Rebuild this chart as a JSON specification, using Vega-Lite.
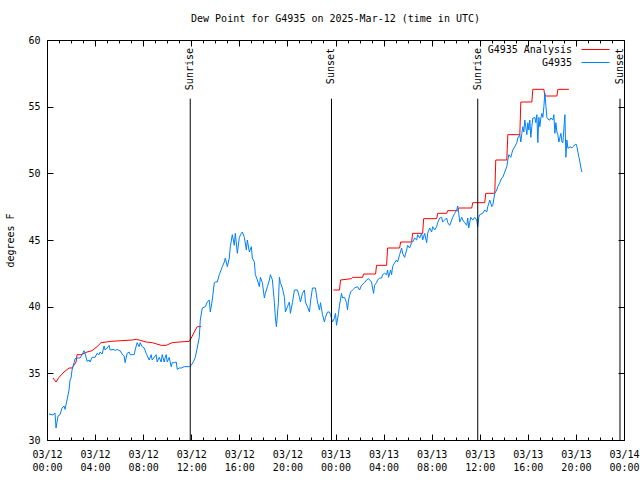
{
"$schema":"https://vega.github.io/schema/vega-lite/v6.json",
"width":577,"height":400,
"autosize":{"type":"none"},
"padding":{"left":47,"top":40,"right":16,"bottom":40},
"background":"white",
"config":{"view":{"stroke":"black","strokeWidth":1},"font":"DejaVu Sans Mono",
"axis":{"grid":false,"domain":false,"labelFont":"DejaVu Sans Mono","labelFontSize":10,"labelColor":"black","tickColor":"black","tickWidth":1,"titleFont":"DejaVu Sans Mono","titleFontSize":10,"titleFontWeight":"normal","titleColor":"black"}},
"title":{"text":"Dew Point for G4935 on 2025-Mar-12 (time in UTC)","font":"DejaVu Sans Mono","fontSize":10,"fontWeight":"normal","color":"black","frame":"group","anchor":"middle","offset":11},
"datasets":{
"sun":[{"t":"2025-03-12T11:55:00Z","label":"Sunrise"},{"t":"2025-03-12T23:40:00Z","label":"Sunset"},{"t":"2025-03-13T11:50:00Z","label":"Sunrise"},{"t":"2025-03-13T23:40:00Z","label":"Sunset"}],
"obs":[
{"t":"2025-03-12T00:30Z","v":34.65,"s":"G4935 Analysis","d":1},
{"t":"2025-03-12T00:45Z","v":34.35,"s":"G4935 Analysis","d":1},
{"t":"2025-03-12T01:00Z","v":34.7,"s":"G4935 Analysis","d":1},
{"t":"2025-03-12T01:25Z","v":35.1,"s":"G4935 Analysis","d":1},
{"t":"2025-03-12T01:50Z","v":35.4,"s":"G4935 Analysis","d":1},
{"t":"2025-03-12T02:05Z","v":35.4,"s":"G4935 Analysis","d":1},
{"t":"2025-03-12T02:25Z","v":35.85,"s":"G4935 Analysis","d":1},
{"t":"2025-03-12T02:30Z","v":36.4,"s":"G4935 Analysis","d":1},
{"t":"2025-03-12T02:50Z","v":36.4,"s":"G4935 Analysis","d":1},
{"t":"2025-03-12T03:05Z","v":36.5,"s":"G4935 Analysis","d":1},
{"t":"2025-03-12T03:20Z","v":36.6,"s":"G4935 Analysis","d":1},
{"t":"2025-03-12T03:45Z","v":36.7,"s":"G4935 Analysis","d":1},
{"t":"2025-03-12T04:10Z","v":37.0,"s":"G4935 Analysis","d":1},
{"t":"2025-03-12T04:30Z","v":37.3,"s":"G4935 Analysis","d":1},
{"t":"2025-03-12T04:55Z","v":37.35,"s":"G4935 Analysis","d":1},
{"t":"2025-03-12T05:20Z","v":37.4,"s":"G4935 Analysis","d":1},
{"t":"2025-03-12T07:05Z","v":37.5,"s":"G4935 Analysis","d":1},
{"t":"2025-03-12T07:25Z","v":37.55,"s":"G4935 Analysis","d":1},
{"t":"2025-03-12T07:40Z","v":37.5,"s":"G4935 Analysis","d":1},
{"t":"2025-03-12T08:15Z","v":37.35,"s":"G4935 Analysis","d":1},
{"t":"2025-03-12T08:45Z","v":37.3,"s":"G4935 Analysis","d":1},
{"t":"2025-03-12T09:30Z","v":37.1,"s":"G4935 Analysis","d":1},
{"t":"2025-03-12T09:55Z","v":37.1,"s":"G4935 Analysis","d":1},
{"t":"2025-03-12T10:25Z","v":37.3,"s":"G4935 Analysis","d":1},
{"t":"2025-03-12T11:00Z","v":37.35,"s":"G4935 Analysis","d":1},
{"t":"2025-03-12T11:50Z","v":37.4,"s":"G4935 Analysis","d":1},
{"t":"2025-03-12T12:00Z","v":37.65,"s":"G4935 Analysis","d":1},
{"t":"2025-03-12T12:15Z","v":38.1,"s":"G4935 Analysis","d":1},
{"t":"2025-03-12T12:30Z","v":38.5,"s":"G4935 Analysis","d":1},
{"t":"2025-03-12T12:50Z","v":38.5,"s":"G4935 Analysis","d":1},
{"t":"2025-03-12T23:50Z","v":41.25,"s":"G4935 Analysis","d":2},
{"t":"2025-03-13T00:20Z","v":41.25,"s":"G4935 Analysis","d":2},
{"t":"2025-03-13T00:25Z","v":42.0,"s":"G4935 Analysis","d":2},
{"t":"2025-03-13T01:20Z","v":42.1,"s":"G4935 Analysis","d":2},
{"t":"2025-03-13T01:25Z","v":42.2,"s":"G4935 Analysis","d":2},
{"t":"2025-03-13T02:15Z","v":42.2,"s":"G4935 Analysis","d":2},
{"t":"2025-03-13T02:20Z","v":42.45,"s":"G4935 Analysis","d":2},
{"t":"2025-03-13T03:20Z","v":42.45,"s":"G4935 Analysis","d":2},
{"t":"2025-03-13T03:25Z","v":43.1,"s":"G4935 Analysis","d":2},
{"t":"2025-03-13T04:15Z","v":43.1,"s":"G4935 Analysis","d":2},
{"t":"2025-03-13T04:20Z","v":44.4,"s":"G4935 Analysis","d":2},
{"t":"2025-03-13T05:20Z","v":44.4,"s":"G4935 Analysis","d":2},
{"t":"2025-03-13T05:25Z","v":44.85,"s":"G4935 Analysis","d":2},
{"t":"2025-03-13T06:20Z","v":44.85,"s":"G4935 Analysis","d":2},
{"t":"2025-03-13T06:25Z","v":45.5,"s":"G4935 Analysis","d":2},
{"t":"2025-03-13T07:15Z","v":45.5,"s":"G4935 Analysis","d":2},
{"t":"2025-03-13T07:20Z","v":46.6,"s":"G4935 Analysis","d":2},
{"t":"2025-03-13T08:25Z","v":46.6,"s":"G4935 Analysis","d":2},
{"t":"2025-03-13T08:30Z","v":47.0,"s":"G4935 Analysis","d":2},
{"t":"2025-03-13T09:15Z","v":47.0,"s":"G4935 Analysis","d":2},
{"t":"2025-03-13T09:20Z","v":47.2,"s":"G4935 Analysis","d":2},
{"t":"2025-03-13T10:10Z","v":47.2,"s":"G4935 Analysis","d":2},
{"t":"2025-03-13T10:15Z","v":47.4,"s":"G4935 Analysis","d":2},
{"t":"2025-03-13T11:20Z","v":47.4,"s":"G4935 Analysis","d":2},
{"t":"2025-03-13T11:25Z","v":47.8,"s":"G4935 Analysis","d":2},
{"t":"2025-03-13T12:25Z","v":47.8,"s":"G4935 Analysis","d":2},
{"t":"2025-03-13T12:30Z","v":48.5,"s":"G4935 Analysis","d":2},
{"t":"2025-03-13T13:15Z","v":48.5,"s":"G4935 Analysis","d":2},
{"t":"2025-03-13T13:20Z","v":51.0,"s":"G4935 Analysis","d":2},
{"t":"2025-03-13T14:15Z","v":51.0,"s":"G4935 Analysis","d":2},
{"t":"2025-03-13T14:20Z","v":52.9,"s":"G4935 Analysis","d":2},
{"t":"2025-03-13T15:20Z","v":52.9,"s":"G4935 Analysis","d":2},
{"t":"2025-03-13T15:25Z","v":55.35,"s":"G4935 Analysis","d":2},
{"t":"2025-03-13T16:20Z","v":55.35,"s":"G4935 Analysis","d":2},
{"t":"2025-03-13T16:25Z","v":56.3,"s":"G4935 Analysis","d":2},
{"t":"2025-03-13T17:20Z","v":56.3,"s":"G4935 Analysis","d":2},
{"t":"2025-03-13T17:25Z","v":55.8,"s":"G4935 Analysis","d":2},
{"t":"2025-03-13T18:25Z","v":55.8,"s":"G4935 Analysis","d":2},
{"t":"2025-03-13T18:30Z","v":56.3,"s":"G4935 Analysis","d":2},
{"t":"2025-03-13T19:25Z","v":56.3,"s":"G4935 Analysis","d":2},
{"t":"2025-03-12T00:10Z","v":31.95,"s":"G4935","d":0},
{"t":"2025-03-12T00:30Z","v":31.88,"s":"G4935","d":0},
{"t":"2025-03-12T00:40Z","v":32.03,"s":"G4935","d":0},
{"t":"2025-03-12T00:45Z","v":30.9,"s":"G4935","d":0},
{"t":"2025-03-12T00:55Z","v":31.8,"s":"G4935","d":0},
{"t":"2025-03-12T01:05Z","v":31.9,"s":"G4935","d":0},
{"t":"2025-03-12T01:15Z","v":32.4,"s":"G4935","d":0},
{"t":"2025-03-12T01:25Z","v":32.55,"s":"G4935","d":0},
{"t":"2025-03-12T01:30Z","v":32.3,"s":"G4935","d":0},
{"t":"2025-03-12T01:40Z","v":33.0,"s":"G4935","d":0},
{"t":"2025-03-12T01:50Z","v":33.75,"s":"G4935","d":0},
{"t":"2025-03-12T01:55Z","v":34.5,"s":"G4935","d":0},
{"t":"2025-03-12T02:00Z","v":34.65,"s":"G4935","d":0},
{"t":"2025-03-12T02:05Z","v":35.25,"s":"G4935","d":0},
{"t":"2025-03-12T02:15Z","v":35.8,"s":"G4935","d":0},
{"t":"2025-03-12T02:20Z","v":36.1,"s":"G4935","d":0},
{"t":"2025-03-12T02:30Z","v":36.15,"s":"G4935","d":0},
{"t":"2025-03-12T02:45Z","v":36.15,"s":"G4935","d":0},
{"t":"2025-03-12T02:55Z","v":36.4,"s":"G4935","d":0},
{"t":"2025-03-12T03:05Z","v":36.7,"s":"G4935","d":0},
{"t":"2025-03-12T03:10Z","v":36.5,"s":"G4935","d":0},
{"t":"2025-03-12T03:20Z","v":35.9,"s":"G4935","d":0},
{"t":"2025-03-12T03:30Z","v":36.0,"s":"G4935","d":0},
{"t":"2025-03-12T03:35Z","v":35.85,"s":"G4935","d":0},
{"t":"2025-03-12T03:45Z","v":36.2,"s":"G4935","d":0},
{"t":"2025-03-12T04:00Z","v":36.2,"s":"G4935","d":0},
{"t":"2025-03-12T04:10Z","v":36.5,"s":"G4935","d":0},
{"t":"2025-03-12T04:20Z","v":36.4,"s":"G4935","d":0},
{"t":"2025-03-12T04:25Z","v":36.6,"s":"G4935","d":0},
{"t":"2025-03-12T04:35Z","v":36.45,"s":"G4935","d":0},
{"t":"2025-03-12T04:45Z","v":37.05,"s":"G4935","d":0},
{"t":"2025-03-12T04:50Z","v":36.75,"s":"G4935","d":0},
{"t":"2025-03-12T05:00Z","v":36.9,"s":"G4935","d":0},
{"t":"2025-03-12T05:10Z","v":37.1,"s":"G4935","d":0},
{"t":"2025-03-12T05:15Z","v":36.75,"s":"G4935","d":0},
{"t":"2025-03-12T05:35Z","v":36.8,"s":"G4935","d":0},
{"t":"2025-03-12T05:40Z","v":36.7,"s":"G4935","d":0},
{"t":"2025-03-12T05:50Z","v":36.8,"s":"G4935","d":0},
{"t":"2025-03-12T06:00Z","v":36.7,"s":"G4935","d":0},
{"t":"2025-03-12T06:05Z","v":36.7,"s":"G4935","d":0},
{"t":"2025-03-12T06:15Z","v":36.45,"s":"G4935","d":0},
{"t":"2025-03-12T06:25Z","v":36.3,"s":"G4935","d":0},
{"t":"2025-03-12T06:30Z","v":35.8,"s":"G4935","d":0},
{"t":"2025-03-12T06:40Z","v":36.5,"s":"G4935","d":0},
{"t":"2025-03-12T06:50Z","v":36.6,"s":"G4935","d":0},
{"t":"2025-03-12T06:55Z","v":36.4,"s":"G4935","d":0},
{"t":"2025-03-12T07:15Z","v":36.4,"s":"G4935","d":0},
{"t":"2025-03-12T07:20Z","v":36.75,"s":"G4935","d":0},
{"t":"2025-03-12T07:30Z","v":37.3,"s":"G4935","d":0},
{"t":"2025-03-12T07:40Z","v":37.0,"s":"G4935","d":0},
{"t":"2025-03-12T07:45Z","v":37.3,"s":"G4935","d":0},
{"t":"2025-03-12T07:55Z","v":37.0,"s":"G4935","d":0},
{"t":"2025-03-12T08:05Z","v":36.9,"s":"G4935","d":0},
{"t":"2025-03-12T08:15Z","v":36.5,"s":"G4935","d":0},
{"t":"2025-03-12T08:30Z","v":36.0,"s":"G4935","d":0},
{"t":"2025-03-12T08:40Z","v":36.4,"s":"G4935","d":0},
{"t":"2025-03-12T08:45Z","v":36.0,"s":"G4935","d":0},
{"t":"2025-03-12T09:05Z","v":36.4,"s":"G4935","d":0},
{"t":"2025-03-12T09:10Z","v":35.85,"s":"G4935","d":0},
{"t":"2025-03-12T09:20Z","v":36.2,"s":"G4935","d":0},
{"t":"2025-03-12T09:30Z","v":35.85,"s":"G4935","d":0},
{"t":"2025-03-12T09:35Z","v":36.4,"s":"G4935","d":0},
{"t":"2025-03-12T09:45Z","v":35.85,"s":"G4935","d":0},
{"t":"2025-03-12T09:50Z","v":36.2,"s":"G4935","d":0},
{"t":"2025-03-12T09:55Z","v":36.4,"s":"G4935","d":0},
{"t":"2025-03-12T10:00Z","v":35.85,"s":"G4935","d":0},
{"t":"2025-03-12T10:10Z","v":36.2,"s":"G4935","d":0},
{"t":"2025-03-12T10:20Z","v":35.5,"s":"G4935","d":0},
{"t":"2025-03-12T10:25Z","v":35.8,"s":"G4935","d":0},
{"t":"2025-03-12T10:35Z","v":35.8,"s":"G4935","d":0},
{"t":"2025-03-12T10:45Z","v":35.85,"s":"G4935","d":0},
{"t":"2025-03-12T10:50Z","v":35.3,"s":"G4935","d":0},
{"t":"2025-03-12T11:00Z","v":35.4,"s":"G4935","d":0},
{"t":"2025-03-12T11:10Z","v":35.4,"s":"G4935","d":0},
{"t":"2025-03-12T11:25Z","v":35.5,"s":"G4935","d":0},
{"t":"2025-03-12T11:50Z","v":35.5,"s":"G4935","d":0},
{"t":"2025-03-12T12:00Z","v":35.6,"s":"G4935","d":0},
{"t":"2025-03-12T12:15Z","v":36.0,"s":"G4935","d":0},
{"t":"2025-03-12T12:20Z","v":36.2,"s":"G4935","d":0},
{"t":"2025-03-12T12:30Z","v":36.9,"s":"G4935","d":0},
{"t":"2025-03-12T12:40Z","v":37.7,"s":"G4935","d":0},
{"t":"2025-03-12T12:45Z","v":39.0,"s":"G4935","d":0},
{"t":"2025-03-12T12:55Z","v":39.9,"s":"G4935","d":0},
{"t":"2025-03-12T13:10Z","v":40.0,"s":"G4935","d":0},
{"t":"2025-03-12T13:20Z","v":40.35,"s":"G4935","d":0},
{"t":"2025-03-12T13:30Z","v":40.5,"s":"G4935","d":0},
{"t":"2025-03-12T13:35Z","v":39.6,"s":"G4935","d":0},
{"t":"2025-03-12T13:45Z","v":40.5,"s":"G4935","d":0},
{"t":"2025-03-12T13:55Z","v":41.8,"s":"G4935","d":0},
{"t":"2025-03-12T14:00Z","v":41.85,"s":"G4935","d":0},
{"t":"2025-03-12T14:10Z","v":41.85,"s":"G4935","d":0},
{"t":"2025-03-12T14:20Z","v":42.4,"s":"G4935","d":0},
{"t":"2025-03-12T14:25Z","v":42.6,"s":"G4935","d":0},
{"t":"2025-03-12T14:35Z","v":43.0,"s":"G4935","d":0},
{"t":"2025-03-12T14:45Z","v":43.35,"s":"G4935","d":0},
{"t":"2025-03-12T14:50Z","v":43.65,"s":"G4935","d":0},
{"t":"2025-03-12T15:00Z","v":43.0,"s":"G4935","d":0},
{"t":"2025-03-12T15:10Z","v":43.65,"s":"G4935","d":0},
{"t":"2025-03-12T15:15Z","v":44.5,"s":"G4935","d":0},
{"t":"2025-03-12T15:25Z","v":45.4,"s":"G4935","d":0},
{"t":"2025-03-12T15:35Z","v":44.6,"s":"G4935","d":0},
{"t":"2025-03-12T15:40Z","v":45.5,"s":"G4935","d":0},
{"t":"2025-03-12T15:50Z","v":44.0,"s":"G4935","d":0},
{"t":"2025-03-12T16:00Z","v":45.2,"s":"G4935","d":0},
{"t":"2025-03-12T16:10Z","v":45.5,"s":"G4935","d":0},
{"t":"2025-03-12T16:15Z","v":45.6,"s":"G4935","d":0},
{"t":"2025-03-12T16:25Z","v":45.2,"s":"G4935","d":0},
{"t":"2025-03-12T16:35Z","v":44.25,"s":"G4935","d":0},
{"t":"2025-03-12T16:40Z","v":45.0,"s":"G4935","d":0},
{"t":"2025-03-12T16:50Z","v":44.1,"s":"G4935","d":0},
{"t":"2025-03-12T17:00Z","v":44.5,"s":"G4935","d":0},
{"t":"2025-03-12T17:05Z","v":43.65,"s":"G4935","d":0},
{"t":"2025-03-12T17:15Z","v":43.35,"s":"G4935","d":0},
{"t":"2025-03-12T17:20Z","v":42.4,"s":"G4935","d":0},
{"t":"2025-03-12T17:30Z","v":42.0,"s":"G4935","d":0},
{"t":"2025-03-12T17:40Z","v":41.5,"s":"G4935","d":0},
{"t":"2025-03-12T17:45Z","v":42.2,"s":"G4935","d":0},
{"t":"2025-03-12T17:55Z","v":41.8,"s":"G4935","d":0},
{"t":"2025-03-12T18:05Z","v":40.65,"s":"G4935","d":0},
{"t":"2025-03-12T18:10Z","v":41.0,"s":"G4935","d":0},
{"t":"2025-03-12T18:20Z","v":41.5,"s":"G4935","d":0},
{"t":"2025-03-12T18:30Z","v":42.0,"s":"G4935","d":0},
{"t":"2025-03-12T18:35Z","v":42.4,"s":"G4935","d":0},
{"t":"2025-03-12T18:45Z","v":42.0,"s":"G4935","d":0},
{"t":"2025-03-12T18:55Z","v":40.3,"s":"G4935","d":0},
{"t":"2025-03-12T19:00Z","v":39.15,"s":"G4935","d":0},
{"t":"2025-03-12T19:05Z","v":38.5,"s":"G4935","d":0},
{"t":"2025-03-12T19:15Z","v":40.3,"s":"G4935","d":0},
{"t":"2025-03-12T19:20Z","v":42.2,"s":"G4935","d":0},
{"t":"2025-03-12T19:25Z","v":41.8,"s":"G4935","d":0},
{"t":"2025-03-12T19:35Z","v":41.4,"s":"G4935","d":0},
{"t":"2025-03-12T19:45Z","v":40.7,"s":"G4935","d":0},
{"t":"2025-03-12T19:50Z","v":39.6,"s":"G4935","d":0},
{"t":"2025-03-12T20:00Z","v":40.0,"s":"G4935","d":0},
{"t":"2025-03-12T20:10Z","v":40.35,"s":"G4935","d":0},
{"t":"2025-03-12T20:15Z","v":39.5,"s":"G4935","d":0},
{"t":"2025-03-12T20:25Z","v":40.3,"s":"G4935","d":0},
{"t":"2025-03-12T20:35Z","v":41.25,"s":"G4935","d":0},
{"t":"2025-03-12T20:50Z","v":41.25,"s":"G4935","d":0},
{"t":"2025-03-12T21:00Z","v":40.7,"s":"G4935","d":0},
{"t":"2025-03-12T21:05Z","v":40.35,"s":"G4935","d":0},
{"t":"2025-03-12T21:15Z","v":41.0,"s":"G4935","d":0},
{"t":"2025-03-12T21:25Z","v":41.25,"s":"G4935","d":0},
{"t":"2025-03-12T21:30Z","v":40.35,"s":"G4935","d":0},
{"t":"2025-03-12T21:40Z","v":40.0,"s":"G4935","d":0},
{"t":"2025-03-12T21:50Z","v":39.6,"s":"G4935","d":0},
{"t":"2025-03-12T21:55Z","v":40.35,"s":"G4935","d":0},
{"t":"2025-03-12T22:05Z","v":41.4,"s":"G4935","d":0},
{"t":"2025-03-12T22:20Z","v":41.4,"s":"G4935","d":0},
{"t":"2025-03-12T22:30Z","v":40.35,"s":"G4935","d":0},
{"t":"2025-03-12T22:40Z","v":39.75,"s":"G4935","d":0},
{"t":"2025-03-12T22:45Z","v":40.3,"s":"G4935","d":0},
{"t":"2025-03-12T22:55Z","v":39.4,"s":"G4935","d":0},
{"t":"2025-03-12T23:05Z","v":38.85,"s":"G4935","d":0},
{"t":"2025-03-12T23:10Z","v":39.2,"s":"G4935","d":0},
{"t":"2025-03-12T23:20Z","v":39.6,"s":"G4935","d":0},
{"t":"2025-03-12T23:30Z","v":39.6,"s":"G4935","d":0},
{"t":"2025-03-12T23:35Z","v":39.4,"s":"G4935","d":0},
{"t":"2025-03-12T23:45Z","v":38.85,"s":"G4935","d":0},
{"t":"2025-03-12T23:55Z","v":39.15,"s":"G4935","d":0},
{"t":"2025-03-13T00:00Z","v":39.5,"s":"G4935","d":0},
{"t":"2025-03-13T00:05Z","v":38.6,"s":"G4935","d":0},
{"t":"2025-03-13T00:15Z","v":39.5,"s":"G4935","d":0},
{"t":"2025-03-13T00:20Z","v":40.1,"s":"G4935","d":0},
{"t":"2025-03-13T00:30Z","v":41.0,"s":"G4935","d":0},
{"t":"2025-03-13T00:35Z","v":40.65,"s":"G4935","d":0},
{"t":"2025-03-13T00:45Z","v":40.7,"s":"G4935","d":0},
{"t":"2025-03-13T00:55Z","v":40.3,"s":"G4935","d":0},
{"t":"2025-03-13T01:00Z","v":39.75,"s":"G4935","d":0},
{"t":"2025-03-13T01:05Z","v":40.5,"s":"G4935","d":0},
{"t":"2025-03-13T01:15Z","v":41.1,"s":"G4935","d":0},
{"t":"2025-03-13T01:25Z","v":41.25,"s":"G4935","d":0},
{"t":"2025-03-13T01:35Z","v":41.4,"s":"G4935","d":0},
{"t":"2025-03-13T01:50Z","v":41.5,"s":"G4935","d":0},
{"t":"2025-03-13T02:00Z","v":41.25,"s":"G4935","d":0},
{"t":"2025-03-13T02:10Z","v":41.6,"s":"G4935","d":0},
{"t":"2025-03-13T02:25Z","v":41.8,"s":"G4935","d":0},
{"t":"2025-03-13T02:35Z","v":42.0,"s":"G4935","d":0},
{"t":"2025-03-13T02:45Z","v":42.1,"s":"G4935","d":0},
{"t":"2025-03-13T03:00Z","v":41.85,"s":"G4935","d":0},
{"t":"2025-03-13T03:05Z","v":41.4,"s":"G4935","d":0},
{"t":"2025-03-13T03:10Z","v":41.0,"s":"G4935","d":0},
{"t":"2025-03-13T03:15Z","v":41.6,"s":"G4935","d":0},
{"t":"2025-03-13T03:25Z","v":41.8,"s":"G4935","d":0},
{"t":"2025-03-13T03:30Z","v":42.0,"s":"G4935","d":0},
{"t":"2025-03-13T03:40Z","v":42.15,"s":"G4935","d":0},
{"t":"2025-03-13T03:50Z","v":42.15,"s":"G4935","d":0},
{"t":"2025-03-13T03:55Z","v":42.4,"s":"G4935","d":0},
{"t":"2025-03-13T04:05Z","v":42.5,"s":"G4935","d":0},
{"t":"2025-03-13T04:15Z","v":42.4,"s":"G4935","d":0},
{"t":"2025-03-13T04:20Z","v":42.75,"s":"G4935","d":0},
{"t":"2025-03-13T04:25Z","v":42.2,"s":"G4935","d":0},
{"t":"2025-03-13T04:35Z","v":42.75,"s":"G4935","d":0},
{"t":"2025-03-13T04:40Z","v":42.4,"s":"G4935","d":0},
{"t":"2025-03-13T04:45Z","v":43.0,"s":"G4935","d":0},
{"t":"2025-03-13T04:55Z","v":43.3,"s":"G4935","d":0},
{"t":"2025-03-13T05:05Z","v":43.5,"s":"G4935","d":0},
{"t":"2025-03-13T05:10Z","v":43.35,"s":"G4935","d":0},
{"t":"2025-03-13T05:20Z","v":43.9,"s":"G4935","d":0},
{"t":"2025-03-13T05:30Z","v":44.4,"s":"G4935","d":0},
{"t":"2025-03-13T05:35Z","v":44.0,"s":"G4935","d":0},
{"t":"2025-03-13T05:45Z","v":43.7,"s":"G4935","d":0},
{"t":"2025-03-13T05:55Z","v":44.25,"s":"G4935","d":0},
{"t":"2025-03-13T06:00Z","v":44.6,"s":"G4935","d":0},
{"t":"2025-03-13T06:10Z","v":44.4,"s":"G4935","d":0},
{"t":"2025-03-13T06:20Z","v":44.8,"s":"G4935","d":0},
{"t":"2025-03-13T06:25Z","v":44.85,"s":"G4935","d":0},
{"t":"2025-03-13T06:35Z","v":45.15,"s":"G4935","d":0},
{"t":"2025-03-13T06:45Z","v":45.0,"s":"G4935","d":0},
{"t":"2025-03-13T06:50Z","v":45.4,"s":"G4935","d":0},
{"t":"2025-03-13T07:00Z","v":45.15,"s":"G4935","d":0},
{"t":"2025-03-13T07:10Z","v":45.5,"s":"G4935","d":0},
{"t":"2025-03-13T07:15Z","v":45.0,"s":"G4935","d":0},
{"t":"2025-03-13T07:25Z","v":45.5,"s":"G4935","d":0},
{"t":"2025-03-13T07:35Z","v":44.8,"s":"G4935","d":0},
{"t":"2025-03-13T07:40Z","v":45.5,"s":"G4935","d":0},
{"t":"2025-03-13T07:50Z","v":45.9,"s":"G4935","d":0},
{"t":"2025-03-13T08:00Z","v":45.6,"s":"G4935","d":0},
{"t":"2025-03-13T08:05Z","v":46.0,"s":"G4935","d":0},
{"t":"2025-03-13T08:15Z","v":45.75,"s":"G4935","d":0},
{"t":"2025-03-13T08:25Z","v":46.0,"s":"G4935","d":0},
{"t":"2025-03-13T08:30Z","v":46.3,"s":"G4935","d":0},
{"t":"2025-03-13T08:40Z","v":46.65,"s":"G4935","d":0},
{"t":"2025-03-13T08:50Z","v":46.7,"s":"G4935","d":0},
{"t":"2025-03-13T08:55Z","v":46.35,"s":"G4935","d":0},
{"t":"2025-03-13T09:05Z","v":46.5,"s":"G4935","d":0},
{"t":"2025-03-13T09:15Z","v":46.65,"s":"G4935","d":0},
{"t":"2025-03-13T09:20Z","v":46.3,"s":"G4935","d":0},
{"t":"2025-03-13T09:30Z","v":46.1,"s":"G4935","d":0},
{"t":"2025-03-13T09:40Z","v":46.5,"s":"G4935","d":0},
{"t":"2025-03-13T09:45Z","v":46.7,"s":"G4935","d":0},
{"t":"2025-03-13T09:55Z","v":47.0,"s":"G4935","d":0},
{"t":"2025-03-13T10:05Z","v":47.25,"s":"G4935","d":0},
{"t":"2025-03-13T10:10Z","v":47.55,"s":"G4935","d":0},
{"t":"2025-03-13T10:15Z","v":47.0,"s":"G4935","d":0},
{"t":"2025-03-13T10:20Z","v":46.35,"s":"G4935","d":0},
{"t":"2025-03-13T10:30Z","v":46.7,"s":"G4935","d":0},
{"t":"2025-03-13T10:35Z","v":46.5,"s":"G4935","d":0},
{"t":"2025-03-13T10:45Z","v":46.3,"s":"G4935","d":0},
{"t":"2025-03-13T10:55Z","v":46.1,"s":"G4935","d":0},
{"t":"2025-03-13T11:00Z","v":46.65,"s":"G4935","d":0},
{"t":"2025-03-13T11:05Z","v":45.9,"s":"G4935","d":0},
{"t":"2025-03-13T11:15Z","v":46.7,"s":"G4935","d":0},
{"t":"2025-03-13T11:25Z","v":46.5,"s":"G4935","d":0},
{"t":"2025-03-13T11:35Z","v":46.7,"s":"G4935","d":0},
{"t":"2025-03-13T11:45Z","v":46.5,"s":"G4935","d":0},
{"t":"2025-03-13T11:50Z","v":46.0,"s":"G4935","d":0},
{"t":"2025-03-13T11:55Z","v":46.7,"s":"G4935","d":0},
{"t":"2025-03-13T12:00Z","v":46.9,"s":"G4935","d":0},
{"t":"2025-03-13T12:15Z","v":47.0,"s":"G4935","d":0},
{"t":"2025-03-13T12:25Z","v":47.25,"s":"G4935","d":0},
{"t":"2025-03-13T12:35Z","v":47.1,"s":"G4935","d":0},
{"t":"2025-03-13T12:40Z","v":47.5,"s":"G4935","d":0},
{"t":"2025-03-13T12:50Z","v":48.0,"s":"G4935","d":0},
{"t":"2025-03-13T13:00Z","v":47.5,"s":"G4935","d":0},
{"t":"2025-03-13T13:05Z","v":47.6,"s":"G4935","d":0},
{"t":"2025-03-13T13:15Z","v":48.5,"s":"G4935","d":0},
{"t":"2025-03-13T13:25Z","v":48.75,"s":"G4935","d":0},
{"t":"2025-03-13T13:30Z","v":49.0,"s":"G4935","d":0},
{"t":"2025-03-13T13:40Z","v":49.3,"s":"G4935","d":0},
{"t":"2025-03-13T13:50Z","v":49.65,"s":"G4935","d":0},
{"t":"2025-03-13T13:55Z","v":49.7,"s":"G4935","d":0},
{"t":"2025-03-13T14:05Z","v":50.1,"s":"G4935","d":0},
{"t":"2025-03-13T14:15Z","v":50.5,"s":"G4935","d":0},
{"t":"2025-03-13T14:20Z","v":51.0,"s":"G4935","d":0},
{"t":"2025-03-13T14:25Z","v":51.4,"s":"G4935","d":0},
{"t":"2025-03-13T14:35Z","v":51.2,"s":"G4935","d":0},
{"t":"2025-03-13T14:40Z","v":51.5,"s":"G4935","d":0},
{"t":"2025-03-13T14:45Z","v":51.75,"s":"G4935","d":0},
{"t":"2025-03-13T14:55Z","v":52.0,"s":"G4935","d":0},
{"t":"2025-03-13T15:05Z","v":52.3,"s":"G4935","d":0},
{"t":"2025-03-13T15:10Z","v":52.65,"s":"G4935","d":0},
{"t":"2025-03-13T15:20Z","v":52.9,"s":"G4935","d":0},
{"t":"2025-03-13T15:25Z","v":52.35,"s":"G4935","d":0},
{"t":"2025-03-13T15:30Z","v":53.0,"s":"G4935","d":0},
{"t":"2025-03-13T15:35Z","v":53.5,"s":"G4935","d":0},
{"t":"2025-03-13T15:40Z","v":53.1,"s":"G4935","d":0},
{"t":"2025-03-13T15:45Z","v":54.0,"s":"G4935","d":0},
{"t":"2025-03-13T15:55Z","v":52.9,"s":"G4935","d":0},
{"t":"2025-03-13T16:00Z","v":53.8,"s":"G4935","d":0},
{"t":"2025-03-13T16:05Z","v":53.25,"s":"G4935","d":0},
{"t":"2025-03-13T16:10Z","v":54.0,"s":"G4935","d":0},
{"t":"2025-03-13T16:15Z","v":52.7,"s":"G4935","d":0},
{"t":"2025-03-13T16:20Z","v":53.5,"s":"G4935","d":0},
{"t":"2025-03-13T16:25Z","v":54.15,"s":"G4935","d":0},
{"t":"2025-03-13T16:30Z","v":54.15,"s":"G4935","d":0},
{"t":"2025-03-13T16:35Z","v":54.2,"s":"G4935","d":0},
{"t":"2025-03-13T16:40Z","v":53.8,"s":"G4935","d":0},
{"t":"2025-03-13T16:45Z","v":54.4,"s":"G4935","d":0},
{"t":"2025-03-13T16:50Z","v":52.3,"s":"G4935","d":0},
{"t":"2025-03-13T16:55Z","v":54.2,"s":"G4935","d":0},
{"t":"2025-03-13T17:00Z","v":53.5,"s":"G4935","d":0},
{"t":"2025-03-13T17:05Z","v":54.15,"s":"G4935","d":0},
{"t":"2025-03-13T17:10Z","v":54.5,"s":"G4935","d":0},
{"t":"2025-03-13T17:15Z","v":54.2,"s":"G4935","d":0},
{"t":"2025-03-13T17:20Z","v":55.0,"s":"G4935","d":0},
{"t":"2025-03-13T17:25Z","v":56.0,"s":"G4935","d":0},
{"t":"2025-03-13T17:30Z","v":55.1,"s":"G4935","d":0},
{"t":"2025-03-13T17:35Z","v":54.2,"s":"G4935","d":0},
{"t":"2025-03-13T17:45Z","v":54.0,"s":"G4935","d":0},
{"t":"2025-03-13T17:50Z","v":54.0,"s":"G4935","d":0},
{"t":"2025-03-13T17:55Z","v":54.15,"s":"G4935","d":0},
{"t":"2025-03-13T18:05Z","v":54.0,"s":"G4935","d":0},
{"t":"2025-03-13T18:10Z","v":54.4,"s":"G4935","d":0},
{"t":"2025-03-13T18:15Z","v":53.0,"s":"G4935","d":0},
{"t":"2025-03-13T18:20Z","v":53.8,"s":"G4935","d":0},
{"t":"2025-03-13T18:25Z","v":53.1,"s":"G4935","d":0},
{"t":"2025-03-13T18:30Z","v":52.9,"s":"G4935","d":0},
{"t":"2025-03-13T18:35Z","v":52.35,"s":"G4935","d":0},
{"t":"2025-03-13T18:45Z","v":53.0,"s":"G4935","d":0},
{"t":"2025-03-13T18:50Z","v":52.35,"s":"G4935","d":0},
{"t":"2025-03-13T18:55Z","v":52.3,"s":"G4935","d":0},
{"t":"2025-03-13T19:05Z","v":54.4,"s":"G4935","d":0},
{"t":"2025-03-13T19:10Z","v":51.2,"s":"G4935","d":0},
{"t":"2025-03-13T19:15Z","v":52.5,"s":"G4935","d":0},
{"t":"2025-03-13T19:20Z","v":51.9,"s":"G4935","d":0},
{"t":"2025-03-13T19:25Z","v":51.9,"s":"G4935","d":0},
{"t":"2025-03-13T19:30Z","v":52.0,"s":"G4935","d":0},
{"t":"2025-03-13T19:40Z","v":51.9,"s":"G4935","d":0},
{"t":"2025-03-13T19:45Z","v":52.0,"s":"G4935","d":0},
{"t":"2025-03-13T20:00Z","v":52.2,"s":"G4935","d":0},
{"t":"2025-03-13T20:05Z","v":52.0,"s":"G4935","d":0},
{"t":"2025-03-13T20:15Z","v":51.2,"s":"G4935","d":0},
{"t":"2025-03-13T20:20Z","v":50.85,"s":"G4935","d":0},
{"t":"2025-03-13T20:25Z","v":50.4,"s":"G4935","d":0},
{"t":"2025-03-13T20:30Z","v":50.1,"s":"G4935","d":0}
]},
"layer":[
{"data":{"name":"obs"},
 "mark":{"type":"line","strokeWidth":1},
 "encoding":{
  "x":{"field":"t","type":"temporal","scale":{"type":"utc","domain":[{"year":2025,"month":3,"date":12,"utc":true},{"year":2025,"month":3,"date":14,"utc":true}]},
   "axis":{"orient":"bottom","title":null,"values":[{"year":2025,"month":3,"date":12,"hours":0,"utc":true},{"year":2025,"month":3,"date":12,"hours":4,"utc":true},{"year":2025,"month":3,"date":12,"hours":8,"utc":true},{"year":2025,"month":3,"date":12,"hours":12,"utc":true},{"year":2025,"month":3,"date":12,"hours":16,"utc":true},{"year":2025,"month":3,"date":12,"hours":20,"utc":true},{"year":2025,"month":3,"date":13,"hours":0,"utc":true},{"year":2025,"month":3,"date":13,"hours":4,"utc":true},{"year":2025,"month":3,"date":13,"hours":8,"utc":true},{"year":2025,"month":3,"date":13,"hours":12,"utc":true},{"year":2025,"month":3,"date":13,"hours":16,"utc":true},{"year":2025,"month":3,"date":13,"hours":20,"utc":true},{"year":2025,"month":3,"date":14,"hours":0,"utc":true}],"tickSize":-6,"labelPadding":15,"labelExpr":"[utcFormat(datum.value,'%m/%d'),utcFormat(datum.value,'%H:%M')]","labelAngle":0,"labelBaseline":"top","labelLineHeight":13,"labelOverlap":false,"labelFlush":false}},
  "y":{"field":"v","type":"quantitative","scale":{"domain":[30,60],"nice":false,"zero":false},
   "axis":{"title":"degrees F","values":[30,35,40,45,50,55,60],"tickSize":-6,"labelPadding":13,"titlePadding":12}},
  "color":{"field":"s","type":"nominal","scale":{"domain":["G4935 Analysis","G4935"],"range":["#ff0000","#0080ff"]},
   "legend":{"orient":"none","legendX":543,"legendY":4,"title":null,"padding":0,"symbolType":"M-2.8,0H2.8","symbolSize":100,"symbolStrokeWidth":1,"labelAlign":"right","labelOffset":-29,"labelFont":"DejaVu Sans Mono","labelFontSize":10,"labelColor":"black","rowPadding":2}},
  "detail":{"field":"d","type":"nominal"}}},
{"data":{"name":"sun"},
 "mark":{"type":"rule","color":"black","strokeWidth":1},
 "encoding":{
  "x":{"field":"t","type":"temporal","scale":{"type":"utc","domain":[{"year":2025,"month":3,"date":12,"utc":true},{"year":2025,"month":3,"date":14,"utc":true}]},"axis":null},
  "y":{"datum":55.6,"type":"quantitative","scale":{"domain":[30,60],"nice":false,"zero":false},"axis":null},
  "y2":{"datum":30}}},
{"data":{"name":"sun"},
 "mark":{"type":"text","angle":270,"align":"right","baseline":"middle","dx":-8,"font":"DejaVu Sans Mono","fontSize":10,"color":"black"},
 "encoding":{
  "x":{"field":"t","type":"temporal","scale":{"type":"utc","domain":[{"year":2025,"month":3,"date":12,"utc":true},{"year":2025,"month":3,"date":14,"utc":true}]},"axis":null},
  "y":{"datum":60,"type":"quantitative","scale":{"domain":[30,60],"nice":false,"zero":false},"axis":null},
  "text":{"field":"label"}}},
{"data":{"name":"obs"},
 "mark":{"type":"line","strokeOpacity":0},
 "encoding":{
  "x":{"field":"t","type":"temporal","scale":{"type":"utc","domain":[{"year":2025,"month":3,"date":12,"utc":true},{"year":2025,"month":3,"date":14,"utc":true}]},"axis":{"orient":"bottom","title":null,"labels":false,"tickCount":48,"tickSize":-3}},
  "y":{"field":"v","type":"quantitative","scale":{"domain":[30,60],"nice":false,"zero":false},"axis":{"orient":"right","title":null,"labels":false,"values":[30,35,40,45,50,55,60],"tickSize":-6}},
  "detail":{"field":"d","type":"nominal"}}},
{"data":{"name":"obs"},
 "mark":{"type":"line","strokeOpacity":0},
 "encoding":{
  "x":{"field":"t","type":"temporal","scale":{"type":"utc","domain":[{"year":2025,"month":3,"date":12,"utc":true},{"year":2025,"month":3,"date":14,"utc":true}]},"axis":{"orient":"top","title":null,"labels":false,"values":[{"year":2025,"month":3,"date":12,"hours":4,"utc":true},{"year":2025,"month":3,"date":12,"hours":8,"utc":true},{"year":2025,"month":3,"date":12,"hours":12,"utc":true},{"year":2025,"month":3,"date":12,"hours":16,"utc":true},{"year":2025,"month":3,"date":12,"hours":20,"utc":true},{"year":2025,"month":3,"date":13,"hours":0,"utc":true},{"year":2025,"month":3,"date":13,"hours":4,"utc":true},{"year":2025,"month":3,"date":13,"hours":8,"utc":true},{"year":2025,"month":3,"date":13,"hours":12,"utc":true},{"year":2025,"month":3,"date":13,"hours":16,"utc":true},{"year":2025,"month":3,"date":13,"hours":20,"utc":true}],"tickSize":-6}},
  "y":{"field":"v","type":"quantitative","scale":{"domain":[30,60],"nice":false,"zero":false},"axis":null},
  "detail":{"field":"d","type":"nominal"}}},
{"data":{"name":"obs"},
 "mark":{"type":"line","strokeOpacity":0},
 "encoding":{
  "x":{"field":"t","type":"temporal","scale":{"type":"utc","domain":[{"year":2025,"month":3,"date":12,"utc":true},{"year":2025,"month":3,"date":14,"utc":true}]},"axis":{"orient":"top","title":null,"labels":false,"tickCount":48,"tickSize":-3}},
  "y":{"field":"v","type":"quantitative","scale":{"domain":[30,60],"nice":false,"zero":false},"axis":null},
  "detail":{"field":"d","type":"nominal"}}}
],
"resolve":{"axis":{"x":"independent","y":"independent"}}
}
